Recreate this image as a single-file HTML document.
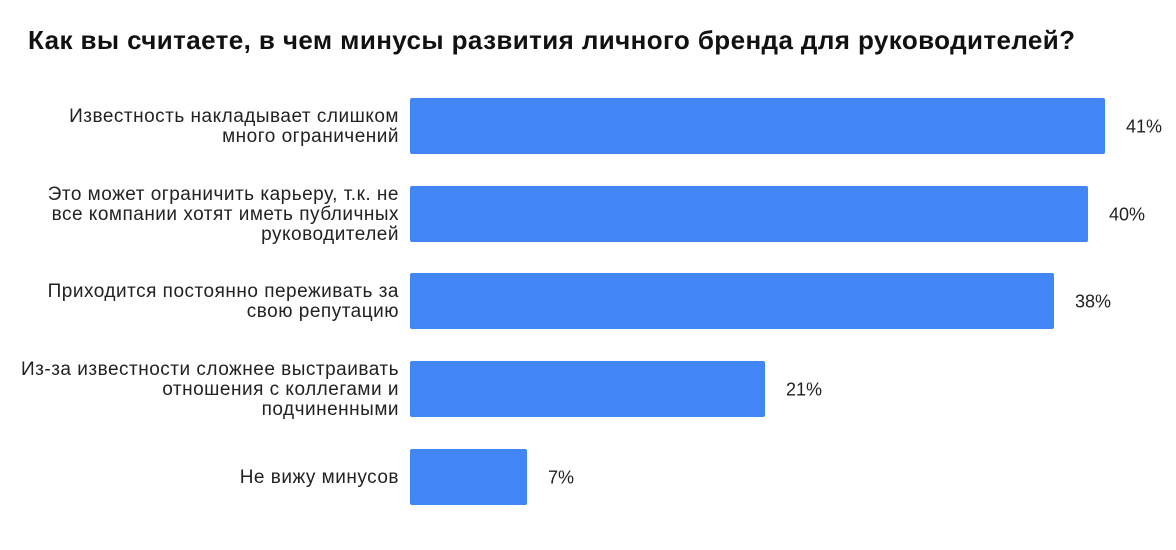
<!DOCTYPE html>
<html><head><meta charset="utf-8"><style>
body{margin:0;width:1176px;height:550px;background:#fff;font-family:"Liberation Sans",sans-serif;position:relative;overflow:hidden}
.t{position:absolute;left:28px;top:25px;font-size:26px;letter-spacing:0.4px;font-weight:bold;color:#111;white-space:nowrap}
.l{position:absolute;right:777px;font-size:19px;letter-spacing:0.5px;line-height:20px;text-align:right;color:#222;transform:translateY(-50%);white-space:nowrap}
.b{position:absolute;left:410px;height:56px;background:#4285f4;border-radius:2px}
.v{position:absolute;font-size:18px;color:#222;transform:translateY(-50%)}
</style></head><body>
<div class="t">Как вы считаете, в чем минусы развития личного бренда для руководителей?</div>
<div class="l" style="top:127px">Известность накладывает слишком<br>много ограничений</div>
<div class="b" style="top:98px;width:695px"></div><div class="v" style="top:127px;left:1126px">41%</div>
<div class="l" style="top:215px">Это может ограничить карьеру, т.к. не<br>все компании хотят иметь публичных<br>руководителей</div>
<div class="b" style="top:186px;width:678px"></div><div class="v" style="top:215px;left:1109px">40%</div>
<div class="l" style="top:302px">Приходится постоянно переживать за<br>свою репутацию</div>
<div class="b" style="top:273px;width:644px"></div><div class="v" style="top:302px;left:1075px">38%</div>
<div class="l" style="top:390px">Из-за известности сложнее выстраивать<br>отношения с коллегами и<br>подчиненными</div>
<div class="b" style="top:361px;width:355px"></div><div class="v" style="top:390px;left:786px">21%</div>
<div class="l" style="top:478px">Не вижу минусов</div>
<div class="b" style="top:449px;width:117px"></div><div class="v" style="top:478px;left:548px">7%</div>
</body></html>
